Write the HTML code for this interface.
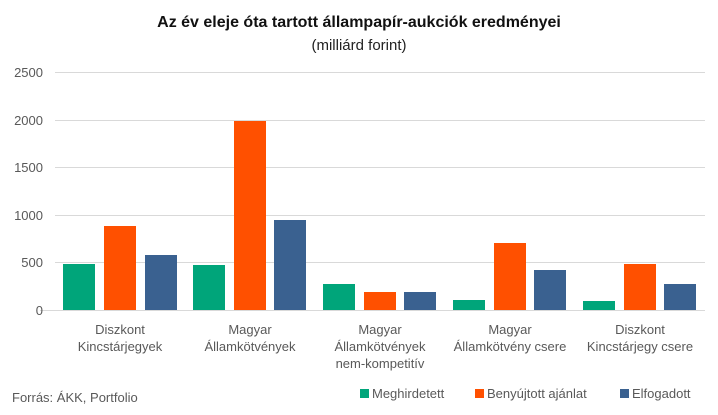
<!DOCTYPE html>
<html><head><style>body{margin:0;background:#fff}svg{display:block;font-family:"Liberation Sans",sans-serif}</style></head><body>
<svg width="718" height="415" xmlns="http://www.w3.org/2000/svg">
<text x="359" y="27" text-anchor="middle" font-size="16" font-weight="bold" fill="#111">Az év eleje óta tartott állampapír-aukciók eredményei</text>
<text x="359" y="50" text-anchor="middle" font-size="15" fill="#222">(milliárd forint)</text>
<g stroke="#d9d9d9" stroke-width="1">
<line x1="55" x2="705" y1="72.5" y2="72.5"/><line x1="55" x2="705" y1="120.5" y2="120.5"/><line x1="55" x2="705" y1="167.5" y2="167.5"/><line x1="55" x2="705" y1="215.5" y2="215.5"/><line x1="55" x2="705" y1="262.5" y2="262.5"/><line x1="40" x2="705" y1="310.5" y2="310.5"/>
</g>
<g font-size="13" fill="#595959" text-anchor="end">
<text x="43" y="77">2500</text><text x="43" y="125">2000</text><text x="43" y="172">1500</text><text x="43" y="220">1000</text><text x="43" y="267">500</text><text x="43" y="315">0</text>
</g>
<g id="bars"></g>
<g fill="#00a57a">
<rect x="63" y="264" width="32" height="46"/><rect x="193" y="265" width="32" height="45"/><rect x="323" y="284" width="32" height="26"/><rect x="453" y="300" width="32" height="10"/><rect x="583" y="301" width="32" height="9"/>
</g>
<g fill="#ff5000">
<rect x="104" y="226" width="32" height="84"/><rect x="234" y="121" width="32" height="189"/><rect x="364" y="292" width="32" height="18"/><rect x="494" y="243" width="32" height="67"/><rect x="624" y="264" width="32" height="46"/>
</g>
<g fill="#3a6190">
<rect x="145" y="255" width="32" height="55"/><rect x="274" y="220" width="32" height="90"/><rect x="404" y="292" width="32" height="18"/><rect x="534" y="270" width="32" height="40"/><rect x="664" y="284" width="32" height="26"/>
</g>
<g font-size="13" fill="#595959" text-anchor="middle">
<text x="120" y="334">Diszkont</text><text x="120" y="351">Kincstárjegyek</text>
<text x="250" y="334">Magyar</text><text x="250" y="351">Államkötvények</text>
<text x="380" y="334">Magyar</text><text x="380" y="351">Államkötvények</text><text x="380" y="368">nem-kompetitív</text>
<text x="510" y="334">Magyar</text><text x="510" y="351">Államkötvény csere</text>
<text x="640" y="334">Diszkont</text><text x="640" y="351">Kincstárjegy csere</text>
</g>
<text x="12" y="402" font-size="13" fill="#595959">Forrás: ÁKK, Portfolio</text>
<g font-size="13" fill="#595959">
<rect x="360" y="389" width="9" height="9" fill="#00a57a"/><text x="372" y="398">Meghirdetett</text>
<rect x="475" y="389" width="9" height="9" fill="#ff5000"/><text x="487" y="398">Benyújtott ajánlat</text>
<rect x="620" y="389" width="9" height="9" fill="#3a6190"/><text x="632" y="398">Elfogadott</text>
</g>
</svg>
</body></html>
